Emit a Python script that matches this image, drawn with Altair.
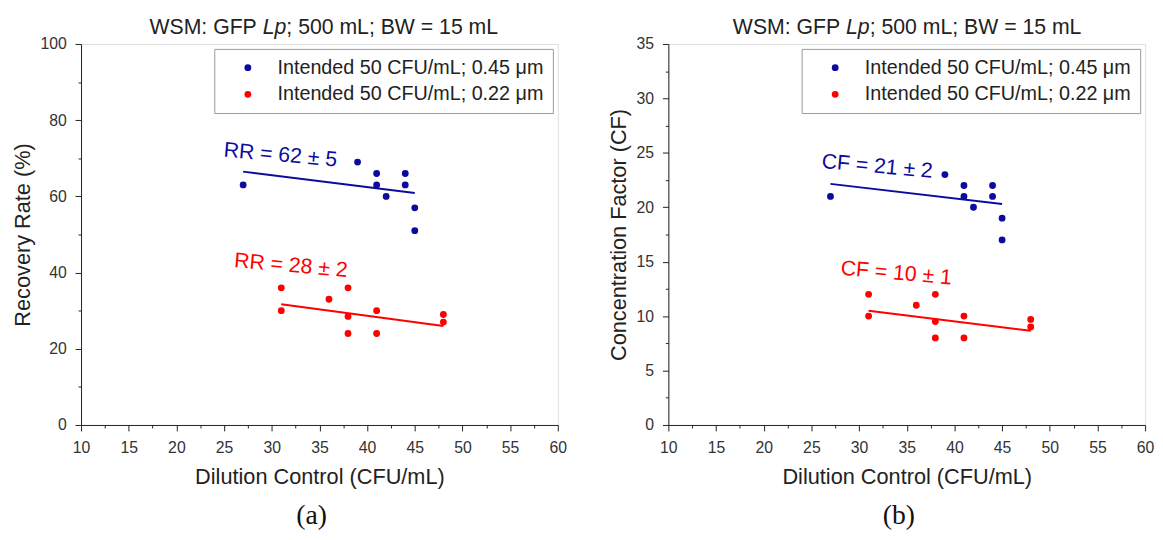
import altair as alt
import pandas as pd

# ---------------- data ----------------
series_names = ["Intended 50 CFU/mL; 0.45 μm", "Intended 50 CFU/mL; 0.22 μm"]

blue_x = [27, 39, 41, 41, 42, 44, 44, 45, 45]
blue_rr = [63, 69, 66, 63, 60, 66, 63, 57, 51]
blue_cf = [21, 23, 22, 21, 20, 22, 21, 19, 17]

red_x = [31, 31, 36, 38, 38, 38, 41, 41, 48, 48]
red_rr = [36, 30, 33, 36, 28.5, 24, 30, 24, 29, 27]
red_cf = [12, 10, 11, 12, 9.5, 8, 10, 8, 9.7, 9]

# fitted lines (end points)
fit_blue_x = [27, 45]
fit_blue_rr = [66.5, 60.9]
fit_blue_cf = [22.15, 20.3]
fit_red_x = [31, 48]
fit_red_rr = [31.7, 26.0]
fit_red_cf = [10.5, 8.65]

# annotations
ann_rr_text = ["RR = 62 ± 5", "RR = 28 ± 2"]
ann_rr_x = [30.9, 32.0]
ann_rr_y = [70.7, 41.7]
ann_cf_text = ["CF = 21 ± 2", "CF = 10 ± 1"]
ann_cf_x = [31.9, 33.9]
ann_cf_y = [23.7, 13.9]

title_parts = ["WSM: GFP", "Lp", "; 500 mL; BW = 15 mL"]

x_ticks = [10, 12.5, 15, 17.5, 20, 22.5, 25, 27.5, 30, 32.5, 35, 37.5, 40,
           42.5, 45, 47.5, 50, 52.5, 55, 57.5, 60]
rr_ticks = [0, 10, 20, 30, 40, 50, 60, 70, 80, 90, 100]
cf_ticks = [0, 2.5, 5, 7.5, 10, 12.5, 15, 17.5, 20, 22.5, 25, 27.5, 30, 32.5, 35]

# ---------------- style ----------------
BLUE = "#0B0BA0"
RED = "#FF0000"
SANS = "Liberation Sans"
SERIF = "Liberation Serif"
W, H = 483, 386
TFS = 21.5  # title font size


def make_axis(values, major, title, title_pad):
    test = f"datum.value % {major} === 0"
    return alt.Axis(
        values=values,
        labelExpr=f"{test} ? datum.label : ''",
        tickSize={"condition": {"test": test, "value": 6}, "value": 3},
        labelFlush=False,
        labelOverlap=False,
        grid=False,
        domainColor="#222",
        tickColor="#222",
        labelFont=SANS,
        labelFontSize=16,
        labelColor="#333",
        labelPadding=9,
        title=title,
        titleFont=SANS,
        titleFontSize=22,
        titleFontWeight="normal",
        titleColor="#222",
        titlePadding=title_pad,
    )


def panel(y_vals_blue, y_vals_red, fit_b, fit_r, ann_text, ann_x, ann_y,
          y_domain, y_ticks, y_major, y_title, lp_x, letter):
    pts = pd.DataFrame({
        "x": blue_x + red_x,
        "y": y_vals_blue + y_vals_red,
        "s": [series_names[0]] * len(blue_x) + [series_names[1]] * len(red_x),
    })
    X = alt.X("x:Q", scale=alt.Scale(domain=[10, 60], nice=False, zero=False),
              axis=make_axis(x_ticks, 5, "Dilution Control (CFU/mL)", 11))
    Y = alt.Y("y:Q", scale=alt.Scale(domain=y_domain, nice=False, zero=False),
              axis=make_axis(y_ticks, y_major, y_title, 6))

    points = alt.Chart(pts).mark_circle(size=48, opacity=1).encode(
        x=X, y=Y,
        color=alt.Color("s:N", scale=alt.Scale(domain=series_names, range=[BLUE, RED]),
                        legend=alt.Legend(
                            title=None, orient="top-right", offset=5, padding=9,
                            strokeColor="#999", fillColor="white",
                            labelFont=SANS, labelFontSize=20, labelColor="#222",
                            labelLimit=0, symbolType="circle", symbolSize=48,
                            symbolStrokeWidth=0, rowPadding=7,
                            symbolOffset=15, labelOffset=20)),
    )
    fb = alt.Chart(pd.DataFrame({"x": fit_blue_x, "y": fit_b})).mark_line(
        color=BLUE, strokeWidth=2).encode(x=X, y=Y)
    fr = alt.Chart(pd.DataFrame({"x": fit_red_x, "y": fit_r})).mark_line(
        color=RED, strokeWidth=2).encode(x=X, y=Y)
    ab = alt.Chart(pd.DataFrame({"x": ann_x[:1], "y": ann_y[:1], "t": ann_text[:1]})).mark_text(
        font=SANS, fontSize=21.5, angle=5, color=BLUE).encode(x=X, y=Y, text="t:N")
    ar = alt.Chart(pd.DataFrame({"x": ann_x[1:], "y": ann_y[1:], "t": ann_text[1:]})).mark_text(
        font=SANS, fontSize=21.5, angle=5, color=RED).encode(x=X, y=Y, text="t:N")

    t1 = alt.Chart(pd.DataFrame({"t": [title_parts[0]]})).mark_text(
        font=SANS, fontSize=TFS, align="right", baseline="alphabetic", color="#222"
    ).encode(x=alt.value(lp_x - 6), y=alt.value(-10), text="t:N")
    t2 = alt.Chart(pd.DataFrame({"t": [title_parts[1]]})).mark_text(
        font=SANS, fontSize=TFS, fontStyle="italic", align="left", baseline="alphabetic", color="#222"
    ).encode(x=alt.value(lp_x), y=alt.value(-10), text="t:N")
    t3 = alt.Chart(pd.DataFrame({"t": [title_parts[2]]})).mark_text(
        font=SANS, fontSize=TFS, align="left", baseline="alphabetic", color="#222"
    ).encode(x=alt.value(lp_x + 24), y=alt.value(-10), text="t:N")

    return alt.layer(points, fb, fr, ab, ar, t1, t2, t3).properties(
        width=W, height=H,
        title=alt.TitleParams(letter, orient="bottom", font=SERIF, fontSize=28,
                              fontWeight="normal", color="#111", offset=15, dx=-8),
    )


left = panel(blue_rr, red_rr, fit_blue_rr, fit_red_rr, ann_rr_text, ann_rr_x, ann_rr_y,
             [0, 100], rr_ticks, 20, "Recovery Rate (%)", 184, "(a)")
right = panel(blue_cf, red_cf, fit_blue_cf, fit_red_cf, ann_cf_text, ann_cf_x, ann_cf_y,
              [0, 35], cf_ticks, 5, "Concentration Factor (CF)", 180, "(b)")

chart = alt.hconcat(left, right, spacing=39).resolve_scale(
    color="independent", x="independent", y="independent"
).resolve_legend(color="independent").properties(
    padding={"left": 2, "top": 5, "right": 0, "bottom": 0}
).configure_view(stroke="#222", strokeWidth=1).configure(background="white")

chart.save("out.html", embed_options={"renderer": "svg", "actions": False})
